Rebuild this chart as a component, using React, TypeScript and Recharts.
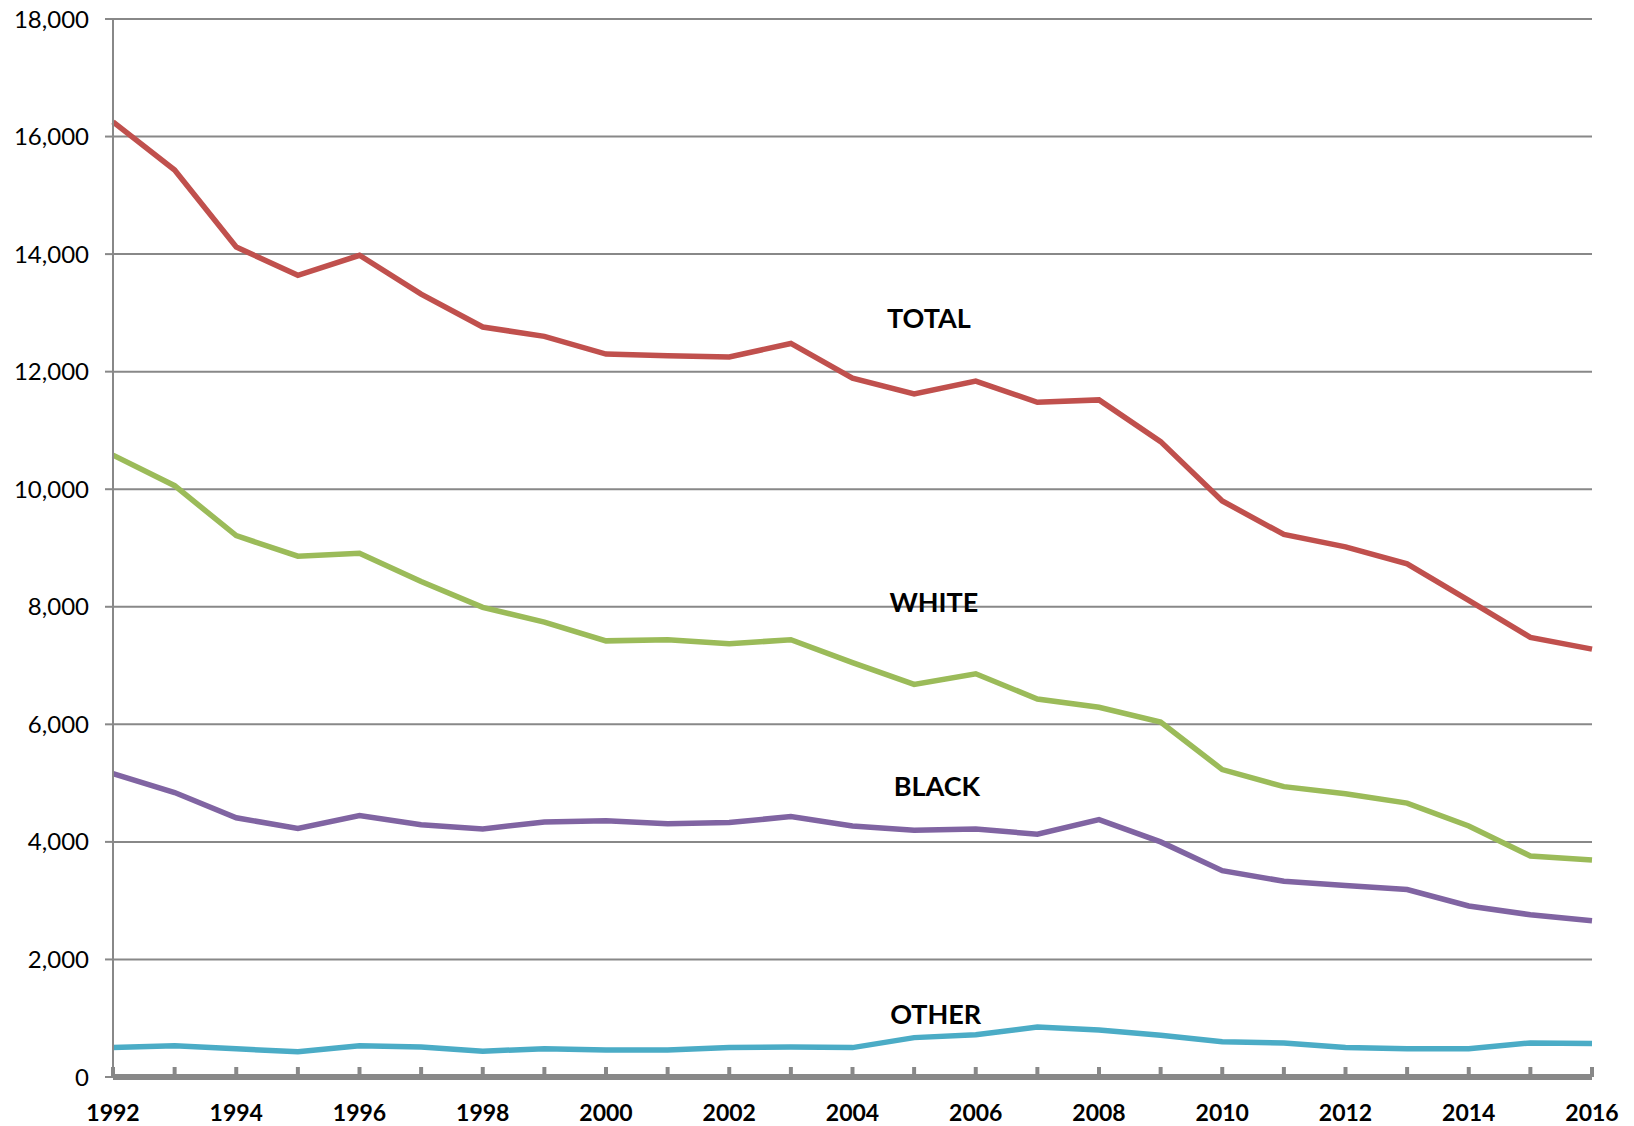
import { LineChart, Line, XAxis, YAxis, CartesianGrid, ReferenceDot } from "recharts";

const years = [
  1992, 1993, 1994, 1995, 1996, 1997, 1998, 1999, 2000, 2001, 2002, 2003, 2004,
  2005, 2006, 2007, 2008, 2009, 2010, 2011, 2012, 2013, 2014, 2015, 2016,
];

const total = [
  16250, 15430, 14120, 13640, 13980, 13320, 12760, 12600, 12300, 12270, 12250, 12480, 11890,
  11620, 11840, 11480, 11520, 10810, 9800, 9230, 9020, 8730, 8110, 7480, 7280,
];

const white = [
  10580, 10060, 9210, 8860, 8910, 8430, 7990, 7740, 7420, 7440, 7370, 7440, 7050,
  6680, 6860, 6430, 6290, 6040, 5230, 4940, 4820, 4660, 4270, 3760, 3690,
];

const black = [
  5160, 4840, 4410, 4230, 4450, 4290, 4220, 4340, 4360, 4310, 4330, 4430, 4270,
  4200, 4220, 4130, 4380, 4000, 3510, 3330, 3260, 3190, 2910, 2760, 2660,
];

const other = [
  500, 530, 480, 430, 530, 510, 440, 480, 460, 460, 500, 510, 500,
  670, 720, 850, 800, 710, 600, 580, 500, 480, 480, 580, 570,
];

const yTicks = [0, 2000, 4000, 6000, 8000, 10000, 12000, 14000, 16000, 18000];

// series name labels, anchored in data space
const seriesLabels = [
  { text: "TOTAL", year: 2005.24, value: 12900 },
  { text: "WHITE", year: 2005.32, value: 8070 },
  { text: "BLACK", year: 2005.37, value: 4950 },
  { text: "OTHER", year: 2005.35, value: 1060 },
];

const data = years.map((year, i) => ({
  year,
  total: total[i],
  white: white[i],
  black: black[i],
  other: other[i],
}));

const FONT = "Lato, 'Open Sans', sans-serif";
const GRAY = "#888888";

function YearTick(props: any) {
  const { x, payload } = props;
  const year = payload.value as number;
  if (year % 2 !== 0) return null;
  return (
    <text
      x={x}
      y={1112}
      textAnchor="middle"
      dominantBaseline="central"
      fontFamily={FONT}
      fontWeight={700}
      fontSize={23}
      fill="#000"
    >
      {year}
    </text>
  );
}

export default function App() {
  return (
    <div style={{ width: 1634, height: 1126, marginTop: -8, marginLeft: -8 }}>
      <LineChart
        width={1634}
        height={1126}
        data={data}
        margin={{ top: 19, right: 42, left: 8, bottom: 4 }}
      >
        <CartesianGrid vertical={false} stroke={GRAY} strokeWidth={2} />
        <XAxis
          dataKey="year"
          type="number"
          domain={[1992, 2016]}
          ticks={years}
          interval={0}
          height={45}
          axisLine={{ stroke: GRAY, strokeWidth: 6 }}
          tickLine={{ stroke: GRAY, strokeWidth: 4 }}
          tickSize={-10}
          tick={<YearTick />}
        />
        <YAxis
          domain={[0, 18000]}
          ticks={yTicks}
          width={105}
          axisLine={{ stroke: GRAY, strokeWidth: 2 }}
          tickLine={{ stroke: GRAY, strokeWidth: 2 }}
          tickSize={8}
          tickMargin={16}
          tick={{ fontFamily: FONT, fontSize: 24, fill: "#000" }}
          tickFormatter={(v) => Number(v).toLocaleString("en-US")}
        />
        <Line dataKey="total" stroke="#C0504D" strokeWidth={5.5} dot={false} isAnimationActive={false} />
        <Line dataKey="white" stroke="#9BBB59" strokeWidth={5.5} dot={false} isAnimationActive={false} />
        <Line dataKey="black" stroke="#8064A2" strokeWidth={5.5} dot={false} isAnimationActive={false} />
        <Line dataKey="other" stroke="#4BACC6" strokeWidth={5.5} dot={false} isAnimationActive={false} />
        {seriesLabels.map((l) => (
          <ReferenceDot
            key={l.text}
            x={l.year}
            y={l.value}
            r={0}
            fill="none"
            stroke="none"
            label={{
              value: l.text,
              position: "center",
              fontFamily: FONT,
              fontWeight: 700,
              fontSize: 27,
              fill: "#000",
            }}
          />
        ))}
      </LineChart>
    </div>
  );
}
